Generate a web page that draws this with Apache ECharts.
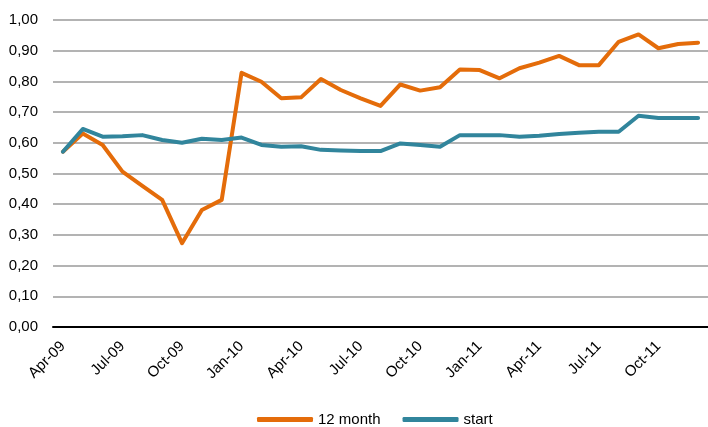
<!DOCTYPE html>
<html>
<head>
<meta charset="utf-8">
<script src="https://cdn.jsdelivr.net/npm/echarts@6/dist/echarts.min.js"></script>
<style>
  html, body { margin: 0; padding: 0; background: #fff; }
  #chart { width: 708px; height: 427px; }
</style>
</head>
<body>
<div id="chart"></div>
<script>
// months Apr-09 .. Dec-11
var months = [
  'Apr-09', 'May-09', 'Jun-09', 'Jul-09', 'Aug-09', 'Sep-09', 'Oct-09', 'Nov-09', 'Dec-09',
  'Jan-10', 'Feb-10', 'Mar-10', 'Apr-10', 'May-10', 'Jun-10', 'Jul-10', 'Aug-10', 'Sep-10',
  'Oct-10', 'Nov-10', 'Dec-10', 'Jan-11', 'Feb-11', 'Mar-11', 'Apr-11', 'May-11', 'Jun-11',
  'Jul-11', 'Aug-11', 'Sep-11', 'Oct-11', 'Nov-11', 'Dec-11'
];

var twelveMonth = [
  0.571, 0.630, 0.593, 0.506, 0.460, 0.414, 0.273, 0.381, 0.414,
  0.828, 0.799, 0.745, 0.748, 0.808, 0.772, 0.745, 0.720, 0.790,
  0.770, 0.781, 0.839, 0.837, 0.810, 0.843, 0.861, 0.883, 0.853,
  0.853, 0.929, 0.953, 0.908, 0.922, 0.926
];

var start = [
  0.571, 0.645, 0.620, 0.621, 0.625, 0.609, 0.600, 0.613, 0.609,
  0.617, 0.593, 0.587, 0.589, 0.577, 0.575, 0.573, 0.573, 0.598,
  0.593, 0.587, 0.625, 0.625, 0.625, 0.620, 0.623, 0.629, 0.633,
  0.636, 0.636, 0.688, 0.681, 0.681, 0.681
];

var chart = echarts.init(document.getElementById('chart'));

var option = {
  animation: false,
  textStyle: { fontFamily: 'Liberation Sans, Arial, sans-serif' },
  grid: { left: 53, right: 0, top: 20, bottom: 100 },
  legend: {
    left: 252,
    top: 407,
    itemWidth: 56,
    itemHeight: 5,
    itemGap: 22,
    icon: 'roundRect',
    textStyle: { fontSize: 15, color: '#000' },
    data: ['12 month', 'start']
  },
  xAxis: {
    type: 'category',
    boundaryGap: true,
    data: months,
    axisLine: { lineStyle: { color: '#000', width: 2 } },
    axisTick: { show: false },
    axisLabel: {
      interval: 2,
      rotate: 45,
      margin: 17,
      fontSize: 15,
      color: '#000'
    }
  },
  yAxis: {
    type: 'value',
    min: 0,
    max: 1,
    interval: 0.1,
    axisLine: { show: false },
    axisTick: { show: false },
    axisLabel: {
      fontSize: 15,
      color: '#000',
      margin: 15,
      formatter: function (v) { return v.toFixed(2).replace('.', ','); }
    },
    splitLine: { lineStyle: { color: '#9a9a9a', width: 1.5 } }
  },
  series: [
    {
      name: '12 month',
      type: 'line',
      data: twelveMonth,
      showSymbol: false,
      symbol: 'none',
      itemStyle: { color: '#E46C0A' },
      lineStyle: { color: '#E46C0A', width: 4, cap: 'round', join: 'round' }
    },
    {
      name: 'start',
      type: 'line',
      data: start,
      showSymbol: false,
      symbol: 'none',
      itemStyle: { color: '#31859C' },
      lineStyle: { color: '#31859C', width: 4, cap: 'round', join: 'round' }
    }
  ]
};

chart.setOption(option);
window.addEventListener('resize', function () { chart.resize(); });
</script>
</body>
</html>
